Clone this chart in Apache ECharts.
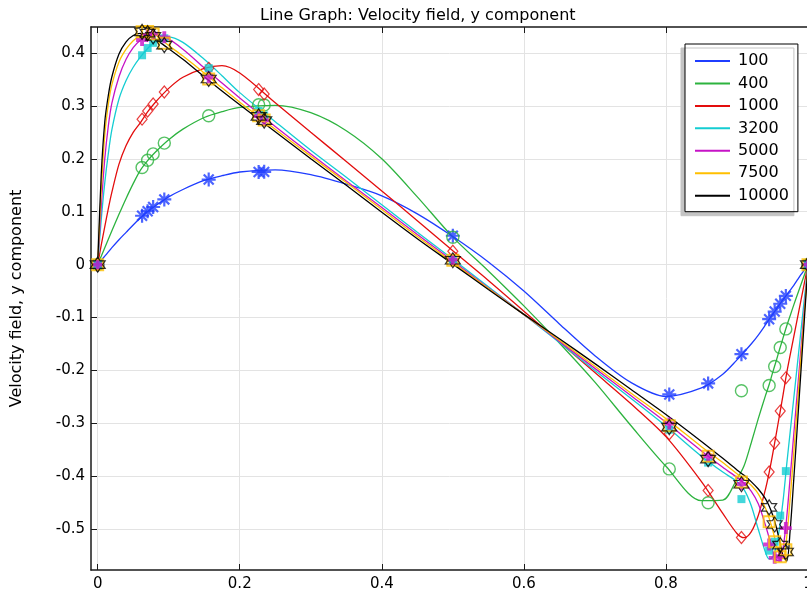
<!DOCTYPE html>
<html>
<head>
<meta charset="utf-8">
<script src="https://cdn.jsdelivr.net/npm/echarts@6/dist/echarts.min.js"></script>
<style>
  html, body { margin: 0; padding: 0; background: #fff; }
  #chart { width: 807px; height: 595px; }
</style>
</head>
<body>
<div id="chart"></div>
<script>
// Sample positions along the horizontal centreline for the computed profiles
const lineX = [0, 0.005, 0.01, 0.015, 0.02, 0.03, 0.04, 0.05, 0.06, 0.07, 0.08, 0.1, 0.12, 0.15, 0.175,
  0.2, 0.25, 0.3, 0.35, 0.4, 0.45, 0.5, 0.55, 0.6, 0.65, 0.7, 0.75, 0.8, 0.85, 0.88, 0.9, 0.91,
  0.92, 0.93, 0.94, 0.945, 0.95, 0.955, 0.96, 0.965, 0.97, 0.975, 0.98, 0.985, 0.99, 0.995, 1];

// Computed y-velocity profiles, one per Reynolds number
const lineRe100 = [0, 0.008, 0.016, 0.024, 0.032, 0.047, 0.061, 0.075, 0.088, 0.100, 0.110, 0.128, 0.142, 0.159, 0.168,
  0.175, 0.179, 0.170, 0.152, 0.130, 0.096, 0.053, 0.005, -0.050, -0.112, -0.172, -0.222, -0.249, -0.233, -0.207, -0.180, -0.165,
  -0.150, -0.133, -0.114, -0.104, -0.094, -0.085, -0.075, -0.066, -0.057, -0.048, -0.039, -0.029, -0.019, -0.010, 0];
const lineRe400 = [0, 0.016, 0.032, 0.048, 0.064, 0.095, 0.125, 0.153, 0.178, 0.196, 0.211, 0.236, 0.256, 0.278, 0.289,
  0.297, 0.301, 0.287, 0.253, 0.200, 0.128, 0.052, -0.012, -0.078, -0.148, -0.222, -0.303, -0.381, -0.446, -0.445, -0.405, -0.380,
  -0.337, -0.291, -0.248, -0.228, -0.205, -0.183, -0.160, -0.138, -0.116, -0.096, -0.076, -0.057, -0.038, -0.019, 0];
const lineRe1000 = [0, 0.037, 0.072, 0.106, 0.137, 0.190, 0.225, 0.250, 0.268, 0.288, 0.305, 0.333, 0.354, 0.371, 0.376,
  0.362, 0.306, 0.250, 0.195, 0.139, 0.083, 0.026, -0.030, -0.088, -0.146, -0.204, -0.262, -0.325, -0.410, -0.470, -0.508, -0.516,
  -0.505, -0.474, -0.425, -0.395, -0.360, -0.322, -0.284, -0.245, -0.205, -0.170, -0.136, -0.102, -0.068, -0.034, 0];
const lineRe3200 = [0, 0.085, 0.155, 0.210, 0.255, 0.313, 0.348, 0.373, 0.392, 0.408, 0.420, 0.430, 0.420, 0.388, 0.357,
  0.325, 0.270, 0.216, 0.165, 0.113, 0.061, 0.010, -0.042, -0.094, -0.147, -0.200, -0.252, -0.305, -0.362, -0.392, -0.410, -0.425,
  -0.455, -0.500, -0.543, -0.556, -0.553, -0.535, -0.497, -0.445, -0.378, -0.315, -0.252, -0.189, -0.126, -0.063, 0];
const lineRe5000 = [0, 0.110, 0.200, 0.262, 0.305, 0.355, 0.388, 0.410, 0.424, 0.432, 0.434, 0.426, 0.407, 0.372, 0.343,
  0.315, 0.261, 0.209, 0.158, 0.108, 0.057, 0.007, -0.044, -0.094, -0.145, -0.196, -0.247, -0.298, -0.352, -0.383, -0.402, -0.413,
  -0.428, -0.452, -0.492, -0.515, -0.540, -0.558, -0.560, -0.535, -0.478, -0.400, -0.320, -0.240, -0.160, -0.080, 0];
const lineRe7500 = [0, 0.140, 0.245, 0.303, 0.340, 0.383, 0.407, 0.423, 0.433, 0.437, 0.435, 0.414, 0.394, 0.362, 0.334,
  0.307, 0.256, 0.205, 0.155, 0.104, 0.053, 0.004, -0.045, -0.094, -0.143, -0.192, -0.242, -0.291, -0.344, -0.374, -0.395, -0.405,
  -0.417, -0.433, -0.460, -0.478, -0.500, -0.527, -0.550, -0.556, -0.515, -0.440, -0.355, -0.266, -0.177, -0.089, 0];
const lineRe10000 = [0, 0.170, 0.270, 0.320, 0.355, 0.398, 0.421, 0.433, 0.437, 0.434, 0.427, 0.408, 0.388, 0.355, 0.328,
  0.302, 0.251, 0.200, 0.150, 0.099, 0.049, 0.001, -0.047, -0.094, -0.140, -0.187, -0.235, -0.283, -0.334, -0.366, -0.388, -0.398,
  -0.410, -0.424, -0.442, -0.455, -0.472, -0.494, -0.522, -0.550, -0.560, -0.500, -0.405, -0.305, -0.203, -0.101, 0];

// Reference points (markers) along the same centreline
const refX = [1.0, 0.9688, 0.9609, 0.9531, 0.9453, 0.9063, 0.8594, 0.8047, 0.5, 0.2344, 0.2266, 0.1563, 0.0938, 0.0781, 0.0703, 0.0625, 0];
const refRe100 = [0, -0.05906, -0.07391, -0.08864, -0.10313, -0.16914, -0.22445, -0.24533, 0.05454, 0.17527, 0.17507, 0.16077, 0.12317, 0.10890, 0.10091, 0.09233, 0];
const refRe400 = [0, -0.12146, -0.15663, -0.19254, -0.22847, -0.23827, -0.44993, -0.38598, 0.05186, 0.30174, 0.30203, 0.28124, 0.22965, 0.20920, 0.19713, 0.18360, 0];
const refRe1000 = [0, -0.21388, -0.27669, -0.33714, -0.39188, -0.51550, -0.42665, -0.31966, 0.02526, 0.32235, 0.33075, 0.37095, 0.32627, 0.30353, 0.29012, 0.27485, 0];
const refRe3200 = [0, -0.39017, -0.47425, -0.52357, -0.54053, -0.44307, -0.37401, -0.31184, 0.00999, 0.28188, 0.29030, 0.37119, 0.42768, 0.41906, 0.40917, 0.39560, 0];
const refRe5000 = [0, -0.49774, -0.55069, -0.55408, -0.52876, -0.41442, -0.36214, -0.30018, 0.00945, 0.27280, 0.28066, 0.35368, 0.42951, 0.43648, 0.43329, 0.42447, 0];
const refRe7500 = [0, -0.53858, -0.55216, -0.52347, -0.48590, -0.41050, -0.36213, -0.30448, 0.00824, 0.27348, 0.28117, 0.35060, 0.41824, 0.43564, 0.44030, 0.43979, 0];
const refRe10000 = [0, -0.54302, -0.52987, -0.49099, -0.45863, -0.41496, -0.36737, -0.30719, 0.00831, 0.27224, 0.28003, 0.35070, 0.41487, 0.43124, 0.43733, 0.43983, 0];

// Legend entries and axis tick values
const reynolds = ['100', '400', '1000', '3200', '5000', '7500', '10000'];
const xTicks = [0, 0.2, 0.4, 0.6, 0.8, 1];
const yTicks = [-0.5, -0.4, -0.3, -0.2, -0.1, 0, 0.1, 0.2, 0.3, 0.4];

const lineSets = [lineRe100, lineRe400, lineRe1000, lineRe3200, lineRe5000, lineRe7500, lineRe10000];
const refSets = [refRe100, refRe400, refRe1000, refRe3200, refRe5000, refRe7500, refRe10000];
const colors = ['#1f3dff', '#2db33f', '#e30d0d', '#14cdd2', '#c613c6', '#ffbf00', '#000000'];

const asterisk = 'path://M0,5L10,5M5,0L5,10M1.46,1.46L8.54,8.54M8.54,1.46L1.46,8.54';
const plus = 'path://M3.4,0H6.6V3.4H10V6.6H6.6V10H3.4V6.6H0V3.4H3.4Z';
const hexagram = 'path://M5,0L6.443,2.5L9.33,2.5L7.887,5L9.33,7.5L6.443,7.5L5,10L3.557,7.5L0.67,7.5L2.113,5L0.67,2.5L3.557,2.5Z';

const markerStyles = [
  { symbol: asterisk, size: 14, fill: 'transparent', border: 2.2 },
  { symbol: 'circle', size: 12, fill: 'transparent', border: 1.4 },
  { symbol: 'diamond', size: [10, 12], fill: 'transparent', border: 1.2 },
  { symbol: 'rect', size: 8, fill: null, border: 0 },
  { symbol: plus, size: 12, fill: null, border: 0 },
  { symbol: 'rect', size: 11, fill: 'transparent', border: 2 },
  { symbol: hexagram, size: 15, fill: 'transparent', border: 1.2 }
];

const series = [];
reynolds.forEach((re, k) => {
  series.push({
    type: 'line',
    name: re,
    data: lineX.map((x, i) => [x, lineSets[k][i]]),
    showSymbol: false,
    smooth: 0.3,
    lineStyle: { width: 1.3, color: colors[k] },
    itemStyle: { color: colors[k] },
    z: 2
  });
});
reynolds.forEach((re, k) => {
  const m = markerStyles[k];
  series.push({
    type: 'scatter',
    name: re + ' ref',
    data: refX.map((x, i) => [x, refSets[k][i]]),
    symbol: m.symbol,
    symbolSize: m.size,
    itemStyle: {
      color: m.fill === null ? colors[k] : m.fill,
      borderColor: colors[k],
      borderWidth: m.border
    },
    z: 3
  });
});

const font = 'DejaVu Sans';
const axisColor = '#1a1a1a';

const option = {
  animation: false,
  textStyle: { fontFamily: font },
  title: {
    text: 'Line Graph: Velocity field, y component',
    left: 255,
    top: 3,
    textStyle: { fontFamily: font, fontSize: 16, fontWeight: 'normal', color: '#000' }
  },
  legend: {
    data: reynolds,
    orient: 'vertical',
    left: 685,
    top: 44,
    padding: [9, 9, 8, 10],
    itemWidth: 35,
    itemHeight: 2,
    itemGap: 6.45,
    icon: 'rect',
    backgroundColor: '#fff',
    borderColor: '#000',
    borderWidth: 1,
    shadowColor: '#c4c4c4',
    shadowBlur: 0,
    shadowOffsetX: -4,
    shadowOffsetY: 4,
    textStyle: { fontFamily: font, fontSize: 16, lineHeight: 16, color: '#000', padding: [0, 0, 0, 3] }
  },
  grid: { left: 91, top: 27, width: 717, height: 543, containLabel: false, outerBoundsMode: 'none' },
  xAxis: [{
    type: 'value',
    min: -0.0094,
    max: 1.0,
    position: 'bottom',
    axisLine: { show: true, onZero: false, lineStyle: { color: axisColor, width: 1.5 } },
    axisTick: { show: true, inside: true, length: 6, customValues: xTicks, lineStyle: { color: axisColor } },
    axisLabel: { customValues: xTicks, margin: 7, fontFamily: font, fontSize: 15, color: '#000' },
    splitLine: { show: true, lineStyle: { color: '#e3e3e3', width: 1 } }
  }, {
    type: 'value',
    min: -0.0094,
    max: 1.0,
    position: 'top',
    axisLine: { show: true, onZero: false, lineStyle: { color: axisColor, width: 1.5 } },
    axisTick: { show: true, inside: true, length: 6, customValues: xTicks, lineStyle: { color: axisColor } },
    axisLabel: { show: false },
    splitLine: { show: false }
  }],
  yAxis: [{
    type: 'value',
    min: -0.577,
    max: 0.449,
    position: 'left',
    name: 'Velocity field, y component',
    nameLocation: 'middle',
    nameGap: 66,
    nameTextStyle: { fontFamily: font, fontSize: 16, color: '#000' },
    axisLine: { show: true, onZero: false, lineStyle: { color: axisColor, width: 1.5 } },
    axisTick: { show: true, inside: true, length: 6, customValues: yTicks, lineStyle: { color: axisColor } },
    axisLabel: { customValues: yTicks, margin: 6, fontFamily: font, fontSize: 15, color: '#000' },
    splitLine: { show: true, lineStyle: { color: '#e3e3e3', width: 1 } }
  }],
  series: series
};

const chart = echarts.init(document.getElementById('chart'), null, { renderer: 'canvas' });
chart.setOption(option);
</script>
</body>
</html>
